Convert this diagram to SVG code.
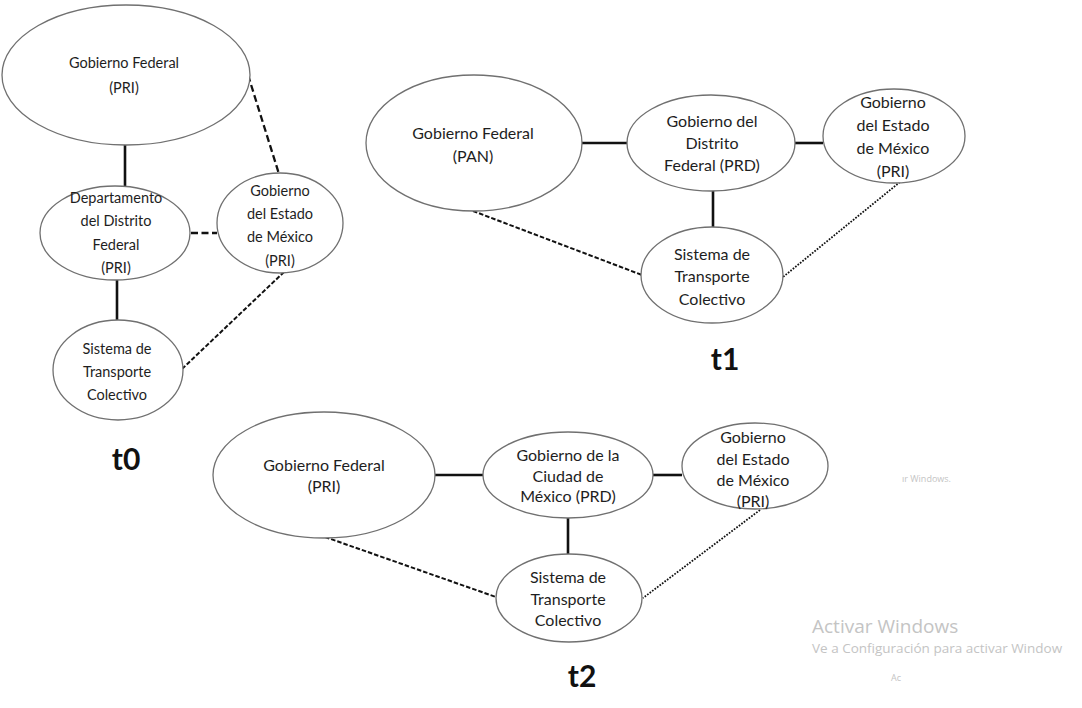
<svg xmlns="http://www.w3.org/2000/svg" width="1082" height="708" viewBox="0 0 1082 708">
<style>
.n{fill:#fff;stroke:#707070;stroke-width:1.3}
.t{font-family:Lato,"Liberation Sans",sans-serif;fill:#1e1e1e;text-anchor:middle}
.s0{font-size:14.5px}
.s1{font-size:16px}
.lbl{font-family:Lato,"Liberation Sans",sans-serif;font-weight:bold;font-size:30px;fill:#111;text-anchor:middle}
.solid{stroke:#111;stroke-width:2.6;fill:none}
.dash{stroke:#111;stroke-width:2.3;fill:none;stroke-dasharray:7 3.5}
.dash2{stroke:#111;stroke-width:2;fill:none;stroke-dasharray:4.5 2}
.dot{stroke:#111;stroke-width:1.8;fill:none;stroke-dasharray:1.7 1.4}
.wm{font-family:"Open Sans","Liberation Sans",sans-serif;fill:#c4c4c4}
</style>
<rect width="1082" height="708" fill="#fff"/>
<g id="connectors">
<line class="solid" x1="125" y1="145" x2="125" y2="186"/>
<line class="solid" x1="117" y1="280" x2="117" y2="320"/>
<line class="dash" x1="248" y1="75" x2="279" y2="174"/>
<line class="dash" x1="191" y1="233" x2="217" y2="233"/>
<line class="dash2" x1="182" y1="369" x2="284" y2="272"/>
<line class="solid" x1="582" y1="143" x2="628" y2="143"/>
<line class="solid" x1="795" y1="143" x2="823" y2="143"/>
<line class="solid" x1="713" y1="190" x2="713" y2="228"/>
<line class="dash2" x1="473" y1="211" x2="642" y2="275"/>
<line class="dot" x1="900" y1="182" x2="783" y2="277"/>
<line class="solid" x1="435" y1="475" x2="483" y2="475"/>
<line class="solid" x1="653" y1="475" x2="682" y2="475"/>
<line class="solid" x1="568" y1="518" x2="568" y2="554"/>
<line class="dash2" x1="325" y1="537" x2="496" y2="597"/>
<line class="dot" x1="760" y1="510" x2="643" y2="598"/>
</g>
<g id="t0-gobierno-federal">
<ellipse class="n" cx="126" cy="75" rx="124" ry="70"/>
<text class="t s0"><tspan x="124" y="68">Gobierno Federal</tspan><tspan x="124" y="93">(PRI)</tspan></text>
</g>
<g id="t0-departamento">
<ellipse class="n" cx="115" cy="233" rx="75" ry="47"/>
<text class="t s0"><tspan x="116" y="203">Departamento</tspan><tspan x="116" y="226">del Distrito</tspan><tspan x="116" y="250">Federal</tspan><tspan x="116" y="273">(PRI)</tspan></text>
</g>
<g id="t0-estado-mexico">
<ellipse class="n" cx="280" cy="223" rx="63" ry="50"/>
<text class="t s0"><tspan x="280" y="196">Gobierno</tspan><tspan x="280" y="219">del Estado</tspan><tspan x="280" y="242">de México</tspan><tspan x="280" y="266">(PRI)</tspan></text>
</g>
<g id="t0-sistema">
<ellipse class="n" cx="118" cy="370" rx="65" ry="50"/>
<text class="t s0"><tspan x="117" y="354">Sistema de</tspan><tspan x="117" y="377">Transporte</tspan><tspan x="117" y="400">Colectivo</tspan></text>
</g>
<text id="t0-label" class="lbl" x="126" y="470">t0</text>
<g id="t1-gobierno-federal">
<ellipse class="n" cx="474" cy="143" rx="108" ry="68"/>
<text class="t s1"><tspan x="473" y="139">Gobierno Federal</tspan><tspan x="473" y="162">(PAN)</tspan></text>
</g>
<g id="t1-distrito">
<ellipse class="n" cx="711" cy="143" rx="84" ry="48"/>
<text class="t s1"><tspan x="712" y="127">Gobierno del</tspan><tspan x="712" y="149">Distrito</tspan><tspan x="712" y="171">Federal (PRD)</tspan></text>
</g>
<g id="t1-estado-mexico">
<ellipse class="n" cx="894" cy="136" rx="71" ry="47"/>
<text class="t s1"><tspan x="893" y="108">Gobierno</tspan><tspan x="893" y="131">del Estado</tspan><tspan x="893" y="154">de México</tspan><tspan x="893" y="177">(PRI)</tspan></text>
</g>
<g id="t1-sistema">
<ellipse class="n" cx="712" cy="275" rx="71" ry="48"/>
<text class="t s1"><tspan x="712" y="260">Sistema de</tspan><tspan x="712" y="282">Transporte</tspan><tspan x="712" y="305">Colectivo</tspan></text>
</g>
<text id="t1-label" class="lbl" x="725" y="370">t1</text>
<g id="t2-gobierno-federal">
<ellipse class="n" cx="324" cy="475" rx="111" ry="63"/>
<text class="t s1"><tspan x="324" y="471">Gobierno Federal</tspan><tspan x="324" y="492">(PRI)</tspan></text>
</g>
<g id="t2-ciudad">
<ellipse class="n" cx="568" cy="475" rx="85" ry="43"/>
<text class="t s1"><tspan x="568" y="461">Gobierno de la</tspan><tspan x="568" y="482">Ciudad de</tspan><tspan x="568" y="502">México (PRD)</tspan></text>
</g>
<g id="t2-estado-mexico">
<ellipse class="n" cx="755" cy="466" rx="73" ry="43"/>
<text class="t s1"><tspan x="753" y="443">Gobierno</tspan><tspan x="753" y="465">del Estado</tspan><tspan x="753" y="486">de México</tspan><tspan x="753" y="507">(PRI)</tspan></text>
</g>
<g id="t2-sistema">
<ellipse class="n" cx="569" cy="598" rx="73" ry="44"/>
<text class="t s1"><tspan x="568" y="583">Sistema de</tspan><tspan x="568" y="605">Transporte</tspan><tspan x="568" y="626">Colectivo</tspan></text>
</g>
<text id="t2-label" class="lbl" x="582" y="687">t2</text>
<g id="watermark">
<text class="wm" x="902" y="482" font-size="9">ır Windows.</text>
<text class="wm" x="812" y="633" font-size="19">Activar Windows</text>
<text class="wm" x="812" y="653" font-size="13.5">Ve a Configuración para activar Window</text>
<text class="wm" x="891" y="681" font-size="9">Ac</text>
</g>
</svg>
